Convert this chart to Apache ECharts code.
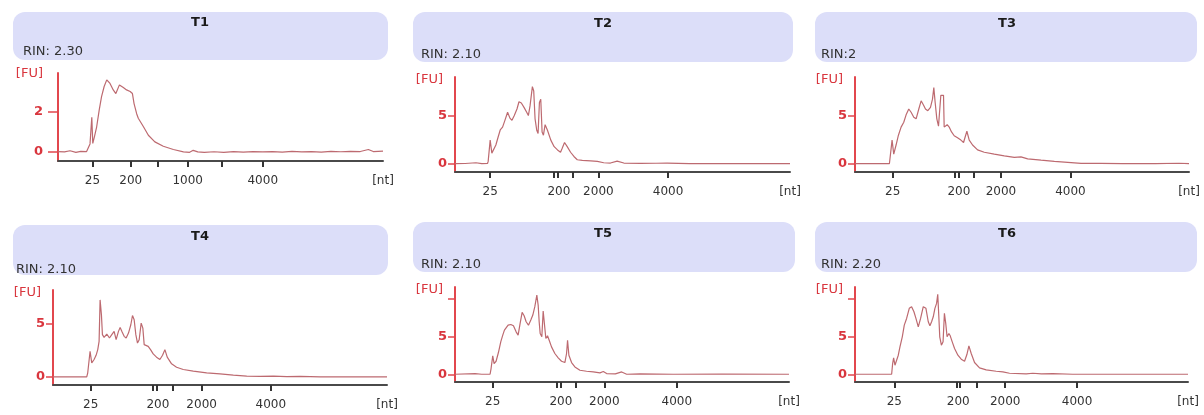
<!DOCTYPE html>
<html>
<head>
<meta charset="utf-8">
<title>RIN electropherograms T1-T6</title>
<script src="https://cdn.jsdelivr.net/npm/echarts@6.0.0/dist/echarts.min.js"></script>
<style>
    html, body { margin: 0; padding: 0; background: #fff; }
    #chart { width: 1204px; height: 415px; }
</style>
</head>
<body>
<div id="chart"></div>
<script>
// sample names and RIN values
var titles = ['T1', 'T2', 'T3', 'T4', 'T5', 'T6'];
var rinLabels = ['RIN: 2.30', 'RIN: 2.10', 'RIN:2', 'RIN: 2.10', 'RIN: 2.10', 'RIN: 2.20'];

// traces: [migration (0-100 of the axis), fluorescence FU]
var t1Trace = [[0,0.02],[2,0],[3.7,0.06],[5.5,-0.02],[7,0.03],[8.8,0.02],[9.3,0.1],[9.85,0.4],[10.4,1.72],[10.7,0.42],[11.2,0.75],[11.9,1.25],[12.7,2.1],[13.4,2.75],[14.2,3.25],[15.0,3.58],[16.0,3.4],[17.0,3.08],[17.8,2.9],[18.9,3.33],[20.1,3.2],[21.1,3.08],[22.2,3.0],[22.9,2.9],[23.4,2.4],[24.2,1.9],[24.7,1.67],[25.2,1.67],[26.3,1.25],[27.8,0.83],[29.8,0.5],[32.4,0.28],[35.5,0.12],[38.6,0],[40.5,-0.02],[41.6,0.08],[43,0],[45,-0.02],[48,0.01],[51,-0.02],[54,0.02],[57,-0.01],[60,0.02],[63,0],[66,0.02],[69,-0.01],[72,0.03],[75,0],[78,0.02],[81,-0.01],[84,0.03],[87,0.01],[90,0.03],[93,0.02],[95.5,0.12],[97,0.02],[100,0.04]];
var t2Trace = [[0,0],[3,0.02],[6.25,0.1],[8,0],[9.7,0.02],[9.9,0.24],[10.5,2.45],[11.0,1.1],[11.5,1.26],[12.2,1.94],[12.9,2.8],[13.5,3.5],[14.2,3.8],[14.9,4.5],[15.7,5.34],[16.4,4.73],[17.0,4.5],[17.7,5.0],[18.5,5.68],[19.1,6.43],[19.8,6.3],[20.6,5.85],[21.4,5.34],[21.9,5.0],[22.4,6.0],[23.1,8.0],[23.5,7.55],[23.9,4.66],[24.4,3.47],[24.8,3.13],[25.2,6.36],[25.6,6.7],[26.0,3.3],[26.4,2.96],[26.9,4.05],[27.6,3.47],[28.6,2.45],[29.6,1.77],[30.6,1.43],[31.5,1.19],[32.0,1.6],[32.7,2.2],[33.5,1.77],[34.5,1.19],[35.5,0.75],[36.5,0.41],[38.0,0.34],[40.5,0.3],[42.5,0.24],[44.4,0.1],[46.4,0.07],[48.4,0.27],[50.4,0.07],[55.4,0.03],[60,0.05],[63.3,0.07],[70,0],[80,0],[90,0],[100,0]];
var t3Trace = [[0,0],[10.3,0],[10.6,0.92],[11.1,2.45],[11.6,1.0],[12.3,1.94],[13.0,2.96],[13.8,3.8],[14.6,4.3],[15.3,5.07],[16.1,5.68],[16.8,5.34],[17.6,4.83],[18.3,4.66],[19.1,5.68],[19.8,6.53],[20.5,6.1],[21.1,5.68],[21.8,5.5],[22.6,5.85],[23.2,6.7],[23.6,7.9],[24.0,6.36],[24.5,4.66],[25.0,3.9],[25.5,3.98],[25.7,7.1],[26.2,7.2],[26.5,7.1],[26.7,3.8],[27.6,4.05],[28.2,3.8],[28.9,3.3],[29.7,2.9],[30.7,2.69],[31.7,2.45],[32.5,2.2],[33.0,2.8],[33.5,3.37],[34.2,2.45],[35.2,1.94],[36.7,1.43],[38.7,1.19],[41.7,1.0],[44.7,0.82],[47.7,0.65],[49.7,0.71],[51.7,0.51],[55.7,0.37],[59.7,0.24],[63.7,0.14],[67.7,0.03],[73.7,0.03],[80,0],[90,0],[97,0.05],[100,0]];
var t4Trace = [[0,0],[10.1,0],[10.4,0.38],[11.1,2.42],[11.6,1.32],[12.3,1.64],[12.9,2.04],[13.4,2.58],[13.8,3.36],[14.1,7.3],[14.5,5.88],[14.8,4.0],[15.3,3.74],[16.1,4.06],[16.9,3.68],[17.6,4.0],[18.3,4.31],[18.9,3.52],[19.6,4.31],[20.1,4.69],[20.7,4.25],[21.3,3.84],[21.9,3.68],[22.6,4.15],[23.3,4.94],[23.8,5.82],[24.3,5.41],[24.8,4.0],[25.3,3.2],[25.8,3.52],[26.4,5.09],[26.9,4.62],[27.3,3.05],[27.8,2.89],[28.5,2.89],[29.2,2.58],[30.0,2.17],[31.0,1.86],[32.0,1.64],[32.8,2.04],[33.5,2.58],[34.2,1.86],[35.5,1.23],[37.0,0.91],[39.0,0.69],[42.0,0.53],[46.0,0.38],[50.0,0.28],[54.0,0.16],[58.0,0.06],[62,0.04],[66,0.06],[70,0.02],[74,0.03],[80,0],[90,0],[100,0]];
var t5Trace = [[0,0],[6.0,0.08],[8,0],[10.5,0],[10.8,0.76],[11.3,2.44],[11.7,1.42],[12.3,1.73],[13.0,2.89],[13.7,4.31],[14.3,5.2],[14.8,5.87],[15.3,5.73],[15.9,6.53],[16.7,6.62],[17.5,6.44],[18.3,5.64],[18.9,5.2],[19.5,6.76],[20.1,8.22],[20.7,7.78],[21.3,6.98],[22.0,6.53],[22.7,7.2],[23.3,7.87],[23.9,8.98],[24.5,10.53],[24.9,9.2],[25.2,6.98],[25.5,5.42],[26.0,4.98],[26.4,8.4],[26.8,8.31],[27.2,4.76],[27.7,5.11],[28.2,4.53],[28.9,3.64],[29.9,2.76],[30.9,2.18],[31.9,1.73],[32.9,1.56],[33.4,2.76],[33.7,4.53],[34.1,2.53],[34.9,1.56],[35.9,0.98],[37.4,0.53],[39.4,0.4],[41.4,0.31],[43.4,0.18],[44.4,0.36],[45.4,0.09],[48,0.05],[49.9,0.31],[51.4,0],[55.4,0.04],[65.4,0],[80,0.02],[100,0]];
var t6Trace = [[0,0],[11.0,0],[11.3,1.42],[11.6,2.18],[12.0,1.2],[12.5,1.87],[13.0,2.53],[13.5,3.64],[14.2,4.98],[14.8,6.53],[15.5,7.42],[16.3,8.76],[17.0,8.98],[17.7,8.31],[18.3,7.42],[19.0,6.31],[19.7,7.42],[20.5,8.98],[21.3,8.76],[22.0,6.98],[22.5,6.44],[23.0,6.98],[23.5,7.64],[24.0,8.76],[24.5,9.42],[24.85,10.62],[25.15,7.87],[25.45,4.98],[25.95,3.87],[26.45,4.31],[26.85,8.09],[27.25,6.76],[27.65,4.98],[28.2,5.42],[28.6,5.11],[29.2,4.31],[29.9,3.42],[30.9,2.53],[31.9,2.0],[32.9,1.73],[33.6,2.62],[34.2,3.78],[34.9,2.76],[35.9,1.56],[37.4,0.84],[39.4,0.58],[42.4,0.4],[44.4,0.31],[46.4,0.13],[51.4,0.04],[53.4,0.13],[56,0.05],[59.4,0.09],[65.4,0],[100,0]];

// ladder ticks on the migration axis, and where the size labels sit
var t1Ticks = [10.6, 22.4, 30.6, 39.9, 50.4, 63.0];
var t2Ticks = [10.5, 29.6, 30.8, 35.0, 42.8, 63.6];
var t3Ticks = [11.3, 29.9, 31.2, 35.7, 43.7, 64.5];
var t4Ticks = [11.3, 30.0, 31.2, 36.0, 44.5, 65.2];
var t5Ticks = [11.3, 30.4, 31.6, 36.2, 44.7, 66.4];
var t6Ticks = [11.8, 30.6, 31.4, 36.6, 45.1, 66.7];
var t1LabelPos = [10.6, 22.4, 39.9, 63.0, 100];
var t2LabelPos = [10.5, 31.0, 42.8, 63.6, 100];
var t3LabelPos = [11.3, 31.1, 43.7, 64.5, 100];
var t4LabelPos = [11.3, 31.4, 44.5, 65.2, 100];
var t5LabelPos = [11.3, 31.7, 44.7, 66.4, 100];
var t6LabelPos = [11.8, 31.0, 45.1, 66.7, 100];
var sizeLabelsT1 = ['25', '200', '1000', '4000', '[nt]'];
var sizeLabels = ['25', '200', '2000', '4000', '[nt]'];

// FU axis
var fuTicksSmall = [0, 2];
var fuTicksMid = [0, 5];
var fuTicksBig = [0, 5, 10];
var fuLabelsSmall = [0, 2];
var fuLabels = [0, 5];
var fuRanges = [[-0.45, 3.92], [-0.86, 9.0], [-0.86, 9.0], [-0.78, 8.24], [-1.03, 11.6], [-1.03, 11.6]];

var traces = [t1Trace, t2Trace, t3Trace, t4Trace, t5Trace, t6Trace];
var xTicks = [t1Ticks, t2Ticks, t3Ticks, t4Ticks, t5Ticks, t6Ticks];
var xLabelPos = [t1LabelPos, t2LabelPos, t3LabelPos, t4LabelPos, t5LabelPos, t6LabelPos];
var xLabelText = [sizeLabelsT1, sizeLabels, sizeLabels, sizeLabels, sizeLabels, sizeLabels];
var yTicks = [fuTicksSmall, fuTicksMid, fuTicksMid, fuTicksMid, fuTicksBig, fuTicksBig];
var yLabels = [fuLabelsSmall, fuLabels, fuLabels, fuLabels, fuLabels, fuLabels];

// layout of the six panels (pixels)
var panels = [
    {grid: [58, 73, 325, 88],  box: [13, 12, 375, 48],  title: [200, 23],  rin: [23, 52],  tickLen: 10, yMargin: 15},
    {grid: [455, 77, 335, 95], box: [413, 12, 380, 50], title: [603, 24],  rin: [421, 55], tickLen: 7,  yMargin: 8},
    {grid: [855, 77, 334, 95], box: [815, 12, 382, 50], title: [1007, 24], rin: [821, 55], tickLen: 7,  yMargin: 8},
    {grid: [53, 290, 334, 95], box: [13, 225, 375, 50], title: [200, 237], rin: [16, 270], tickLen: 7,  yMargin: 8},
    {grid: [455, 287, 334, 95], box: [413, 222, 382, 50], title: [603, 234], rin: [421, 265], tickLen: 7, yMargin: 8},
    {grid: [855, 287, 333, 95], box: [815, 222, 382, 50], title: [1007, 234], rin: [821, 265], tickLen: 7, yMargin: 8}
];

var FONT = '"DejaVu Sans", Verdana, sans-serif';
var RED = '#e2474d';
var TRACE = '#bd6a70';

var chart = echarts.init(document.getElementById('chart'));

var grids = [], xAxes = [], yAxes = [], series = [], graphics = [];

panels.forEach(function (p, i) {
    grids.push({
        left: p.grid[0], top: p.grid[1], width: p.grid[2], height: p.grid[3],
        containLabel: false, outerBoundsMode: 'none'
    });

    var lp = xLabelPos[i], lt = xLabelText[i];
    xAxes.push({
        type: 'value', gridIndex: i, min: 0, max: 100,
        axisLine: {onZero: false, lineStyle: {color: '#4a4a4a', width: 2}},
        axisTick: {customValues: xTicks[i], length: 6, lineStyle: {color: '#333', width: 2}},
        axisLabel: {
            customValues: lp, margin: 14, color: '#333', fontSize: 12, fontFamily: FONT,
            formatter: function (v) {
                for (var k = 0; k < lp.length; k++) {
                    if (Math.abs(lp[k] - v) < 0.01) return lt[k];
                }
                return '';
            }
        },
        splitLine: {show: false}
    });

    var ymax = fuRanges[i][1];
    var fuPad = i === 0 ? [2, 0, 0, 0] : [6, 4, 0, 0];
    yAxes.push({
        type: 'value', gridIndex: i, min: fuRanges[i][0], max: ymax,
        axisLine: {show: true, lineStyle: {color: RED, width: 2}},
        axisTick: {show: true, customValues: yTicks[i], length: p.tickLen, lineStyle: {color: RED, width: 1.5}},
        axisLabel: {
            customValues: yLabels[i].concat([ymax]), margin: p.yMargin,
            color: '#d9363e', fontSize: 13, fontFamily: FONT, fontWeight: 'bold',
            formatter: function (v) {
                return Math.abs(v - ymax) < 1e-6 ? '{fu|[FU]}' : String(v);
            },
            rich: {
                fu: {color: '#d9363e', fontSize: 13, fontFamily: FONT, fontWeight: 'normal', padding: fuPad}
            }
        },
        splitLine: {show: false}
    });

    series.push({
        type: 'line', xAxisIndex: i, yAxisIndex: i,
        data: traces[i], showSymbol: false, smooth: false,
        lineStyle: {color: TRACE, width: 1.2},
        silent: true, animation: false
    });

    graphics.push({
        type: 'rect', silent: true,
        shape: {x: p.box[0], y: p.box[1], width: p.box[2], height: p.box[3], r: 12},
        style: {fill: '#dcdef9'}
    });
    graphics.push({
        type: 'text', silent: true, x: p.title[0], y: p.title[1],
        style: {text: titles[i], fill: '#1a1a1a', font: 'bold 13px ' + FONT, textAlign: 'center', textVerticalAlign: 'middle'}
    });
    graphics.push({
        type: 'text', silent: true, x: p.rin[0], y: p.rin[1],
        style: {text: rinLabels[i], fill: '#333', font: '13px ' + FONT, textAlign: 'left', textVerticalAlign: 'middle'}
    });
});

chart.setOption({
    animation: false,
    backgroundColor: '#ffffff',
    grid: grids,
    xAxis: xAxes,
    yAxis: yAxes,
    series: series,
    graphic: graphics
});
</script>
</body>
</html>
